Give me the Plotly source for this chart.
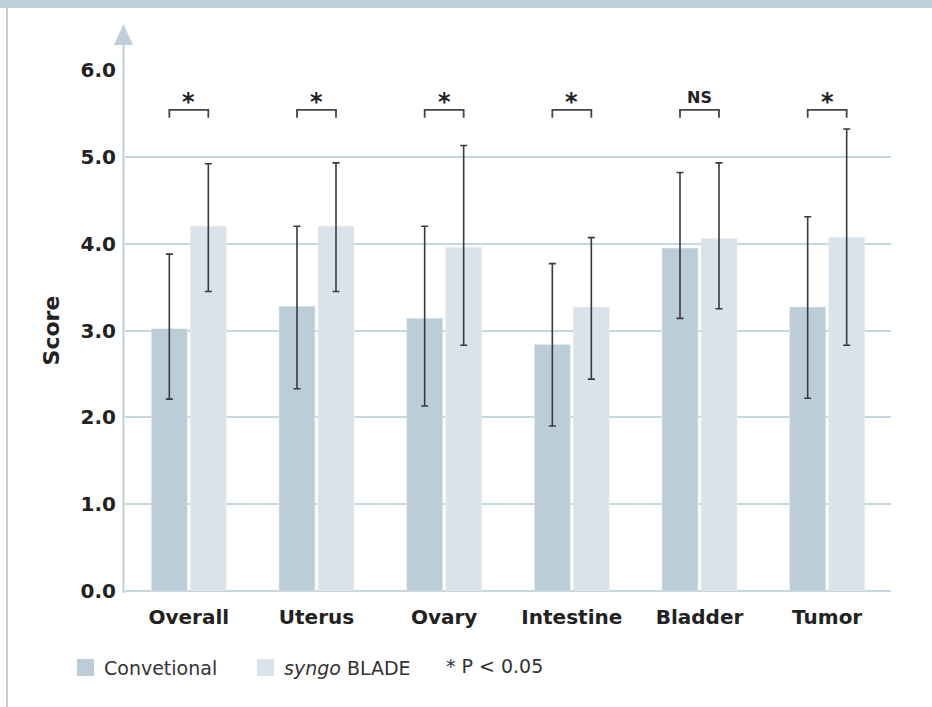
import plotly.graph_objects as go

categories = ["Overall", "Uterus", "Ovary", "Intestine", "Bladder", "Tumor"]
conv = [3.02, 3.28, 3.14, 2.84, 3.95, 3.27]
conv_hi = [3.88, 4.20, 4.20, 3.77, 4.82, 4.31]
conv_lo = [2.21, 2.33, 2.13, 1.90, 3.14, 2.22]
blade = [4.20, 4.20, 3.96, 3.27, 4.06, 4.07]
blade_hi = [4.92, 4.93, 5.13, 4.07, 4.93, 5.32]
blade_lo = [3.45, 3.45, 2.83, 2.44, 3.25, 2.83]
significance = ["*", "*", "*", "*", "NS", "*"]
ytick_vals = [0, 1, 2, 3, 4, 5, 6]
ytick_text = ["0.0", "1.0", "2.0", "3.0", "4.0", "5.0", "6.0"]

W, H = 932, 707
L, R, T, B = 125, 41, 70, 116
PW, PH = W - L - R, H - T - B


def px(x):
    return (x - L) / PW


def py(y):
    return (H - B - y) / PH


C_CONV = "#BBCDD7"
C_BLADE = "#DAE3EA"
C_FRAME = "#BCCFDA"
C_GRID = "#C6D7E0"
C_ERR = "#3A3A3A"
FONT = "DejaVu Sans"

fig = go.Figure()
fig.add_trace(go.Bar(
    x=categories, y=conv, name="Convetional", marker_color=C_CONV,
    error_y=dict(type="data", symmetric=False,
                 array=[h - v for h, v in zip(conv_hi, conv)],
                 arrayminus=[v - l for v, l in zip(conv, conv_lo)],
                 color=C_ERR, thickness=1.6, width=3.5),
))
fig.add_trace(go.Bar(
    x=categories, y=blade, name="syngo BLADE", marker_color=C_BLADE,
    error_y=dict(type="data", symmetric=False,
                 array=[h - v for h, v in zip(blade_hi, blade)],
                 arrayminus=[v - l for v, l in zip(blade, blade_lo)],
                 color=C_ERR, thickness=1.6, width=3.5),
))

shapes = []
annotations = []
off = 0.1527
for i, s in enumerate(significance):
    shapes.append(dict(type="path", xref="x", yref="y",
                       path=f"M {i-off} 5.45 L {i-off} 5.54 L {i+off} 5.54 L {i+off} 5.45",
                       line=dict(color="#444444", width=1.8)))
    is_star = s == "*"
    annotations.append(dict(x=i, y=5.63 if is_star else 5.68, xref="x", yref="y", text=f"<b>{s}</b>",
                            showarrow=False, yanchor="middle",
                            font=dict(family=FONT, size=24 if is_star else 16, color="#222222")))

# frame: top band and left border
shapes.append(dict(type="rect", xref="paper", yref="paper", x0=px(0), x1=px(W), y0=py(8), y1=py(0),
                   fillcolor=C_FRAME, line=dict(width=0), layer="above"))
shapes.append(dict(type="rect", xref="paper", yref="paper", x0=px(6), x1=px(8), y0=py(H), y1=py(8),
                   fillcolor=C_FRAME, line=dict(width=0), layer="above"))
# y axis line with arrow
shapes.append(dict(type="line", xref="paper", yref="paper", x0=px(123.5), x1=px(123.5), y0=py(593), y1=py(44),
                   line=dict(color=C_FRAME, width=2)))
shapes.append(dict(type="path", xref="paper", yref="paper",
                   path=f"M {px(114)} {py(45)} L {px(133)} {py(45)} L {px(123.5)} {py(24)} Z",
                   fillcolor=C_FRAME, line=dict(width=0)))

# legend
leg_items = [(77, C_CONV, 102, "Convetional"), (257, C_BLADE, 282, "<i>syngo</i> BLADE")]
for sx, col, tx, txt in leg_items:
    shapes.append(dict(type="rect", xref="paper", yref="paper", x0=px(sx), x1=px(sx + 17),
                       y0=py(676), y1=py(659), fillcolor=col, line=dict(width=0)))
    annotations.append(dict(x=px(tx), y=py(667.5), xref="paper", yref="paper", text=txt,
                            showarrow=False, xanchor="left", yanchor="middle",
                            font=dict(family=FONT, size=19, color="#333333")))
annotations.append(dict(x=px(444), y=py(666), xref="paper", yref="paper", text="* P < 0.05",
                        showarrow=False, xanchor="left", yanchor="middle",
                        font=dict(family=FONT, size=19, color="#333333")))

fig.update_layout(
    width=W, height=H, autosize=False,
    margin=dict(l=L, r=R, t=T, b=B),
    paper_bgcolor="white", plot_bgcolor="white",
    barmode="group", bargap=0.389, bargroupgap=0.077,
    showlegend=False,
    shapes=shapes, annotations=annotations,
    xaxis=dict(showgrid=False, showline=False, ticks="", ticklabelstandoff=12,
               tickfont=dict(family=FONT, size=20, color="#222222", weight="bold")),
    yaxis=dict(range=[0, 6], tickvals=ytick_vals, ticktext=ytick_text,
               showgrid=True, gridcolor=C_GRID, gridwidth=1.5,
               zeroline=True, zerolinecolor=C_GRID, zerolinewidth=1.5,
               showline=False, ticks="", ticklabelstandoff=8,
               tickfont=dict(family=FONT, size=20, color="#222222", weight="bold"),
               title=dict(text="<b>Score</b>", standoff=14,
                          font=dict(family=FONT, size=22, color="#222222"))),
)

fig.write_html("out.html", config={"displayModeBar": False},
               post_script="document.body.style.margin='0';document.body.style.overflow='hidden';")
